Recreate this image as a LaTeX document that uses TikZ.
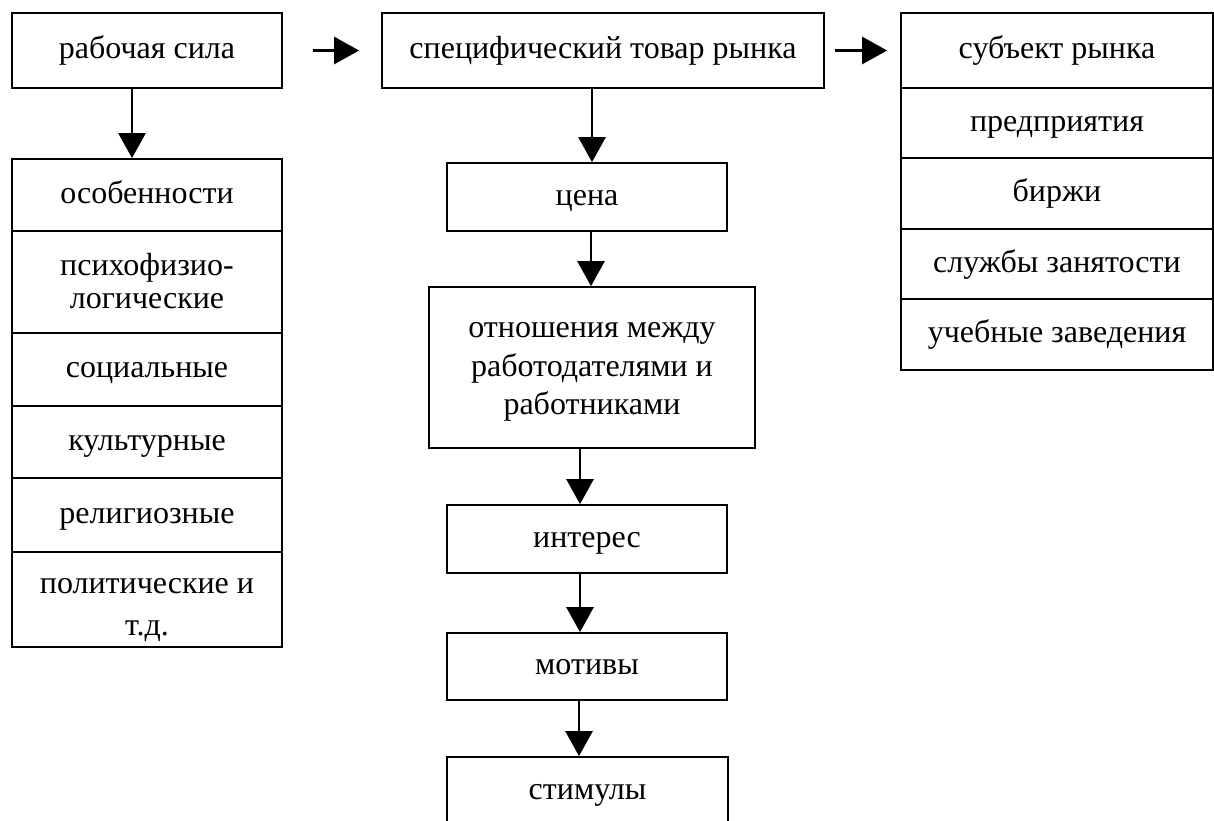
\documentclass[tikz,border=0pt]{standalone}
\usepackage{fontspec}
\setmainfont{Liberation Serif}
\usetikzlibrary{arrows.meta}

\begin{document}
\begin{tikzpicture}[x=1pt,y=-1pt,>={Triangle[length=25pt,width=27pt]},
	kh/.style={draw,line width=1.8pt,inner sep=0pt,align=center,text height=21pt,text depth=5pt,font=\fontsize{32}{37}\selectfont},
	mt/.style={->,line width=2.8pt}]
	\clip (0,0) rectangle (1214,820);
	%Cot 1
	\node[kh,minimum width=270pt,minimum height=75pt] (rab) at (147,50.5) {рабочая сила};
	\node[kh,minimum width=270pt,minimum height=72pt] (osob) at (147,195) {особенности};
	\node[kh,minimum width=270pt,minimum height=102pt,text height=58pt,font=\fontsize{32}{33}\selectfont] (psih) at (147,282) {психофизио-\\логические};
	\node[kh,minimum width=270pt,minimum height=73pt] (soc) at (147,369.5) {социальные};
	\node[kh,minimum width=270pt,minimum height=72pt] (kult) at (147,442) {культурные};
	\node[kh,minimum width=270pt,minimum height=74pt] (relig) at (147,515) {религиозные};
	\node[kh,minimum width=270pt,minimum height=95pt,text height=77pt,font=\fontsize{32}{42}\selectfont] (polit) at (147,599.5) {политические и\\т.д.};
	%Cot 2
	\node[kh,minimum width=442pt,minimum height=75pt] (spec) at (603,50.5) {специфический товар рынка};
	\node[kh,minimum width=280pt,minimum height=68pt] (cena) at (587,197) {цена};
	\node[kh,minimum width=326pt,minimum height=161pt,text height=99pt,font=\fontsize{32}{38.5}\selectfont] (otn) at (592,367.5) {отношения между\\работодателями и\\работниками};
	\node[kh,minimum width=280pt,minimum height=68pt] (inter) at (587,539) {интерес};
	\node[kh,minimum width=280pt,minimum height=67pt] (motiv) at (587,666.5) {мотивы};
	\node[kh,minimum width=281pt,minimum height=68pt] (stim) at (587.5,791) {стимулы};
	%Cot 3
	\node[kh,minimum width=312pt,minimum height=75pt] (subj) at (1057,50.5) {субъект рынка};
	\node[kh,minimum width=312pt,minimum height=70pt] (pred) at (1057,123) {предприятия};
	\node[kh,minimum width=312pt,minimum height=71pt] (birzh) at (1057,193.5) {биржи};
	\node[kh,minimum width=312pt,minimum height=70pt] (sluzh) at (1057,264) {службы занятости};
	\node[kh,minimum width=312pt,minimum height=71pt] (ucheb) at (1057,334.5) {учебные заведения};
	%Mui ten
	\draw[mt] ([xshift=-15pt]rab.south) -- ([xshift=-15pt]osob.north);
	\draw[mt,shorten <=30pt,shorten >=22pt] (rab.east) -- (spec.west);
	\draw[mt,shorten <=10pt,shorten >=13pt] (spec.east) -- (subj.west);
	\draw[mt] ([xshift=-11pt]spec.south) -- ([xshift=5pt]cena.north);
	\draw[mt] ([xshift=4pt]cena.south) -- ([xshift=-1pt]otn.north);
	\draw[mt] ([xshift=-12pt]otn.south) -- ([xshift=-7pt]inter.north);
	\draw[mt] ([xshift=-7pt]inter.south) -- ([xshift=-7pt]motiv.north);
	\draw[mt] ([xshift=-8pt]motiv.south) -- ([xshift=-8.5pt]stim.north);
\end{tikzpicture}
\end{document}
